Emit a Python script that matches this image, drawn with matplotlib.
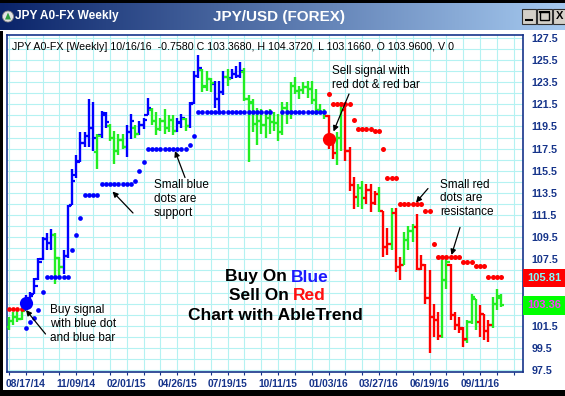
import matplotlib
matplotlib.use("Agg")
import matplotlib.pyplot as plt
import matplotlib.transforms as mtransforms
from matplotlib.colors import LinearSegmentedColormap
from matplotlib.patches import Rectangle, Circle, Polygon
import numpy as np

plt.rcParams["font.family"] = ["Liberation Sans", "DejaVu Sans"]

# weekly bars, bar 0 = week of 07/20/14, last bar = 10/16/16
date_labels = ["08/17/14", "11/09/14", "02/01/15", "04/26/15", "07/19/15",
               "10/11/15", "01/03/16", "03/27/16", "06/19/16", "09/11/16"]
date_bar = [4, 16, 28, 40, 52, 64, 76, 88, 100, 112]

high = [102.3, 102.75, 102.9, 103.1, 104.3, 104.55, 105.8, 107.6, 109.5, 109.9,
        110.2, 109.9, 107.7, 108.3, 112.4, 115.7, 116.9, 119.0, 119.0, 122.0,
        121.7, 118.8, 120.9, 120.8, 119.75, 119.1, 118.85, 118.85, 119.6, 120.65,
        119.6, 120.0, 120.3, 122.1, 121.2, 120.8, 120.3, 121.1, 120.5, 120.5,
        120.3, 120.6, 120.3, 121.7, 124.5, 126.0, 124.7, 124.5, 123.9, 123.6,
        123.6, 124.5, 124.7, 124.7, 125.0, 125.3, 124.8, 122.3, 122.0, 121.2,
        121.1, 120.9, 121.1, 120.8, 120.6, 121.7, 121.7, 123.5, 124.0, 123.2,
        123.5, 123.6, 123.6, 122.9, 121.5, 121.1, 120.5, 118.2, 119.0, 121.7,
        121.5, 117.6, 114.9, 114.3, 114.6, 114.3, 114.3, 113.7, 114.0, 111.9,
        110.3, 112.1, 112.1, 107.7, 109.95, 110.55, 110.7, 111.6, 107.9, 107.1,
        106.5, 103.5, 102.75, 107.4, 107.7, 107.1, 102.75, 102.3, 101.4, 102.0,
        104.4, 103.95, 103.35, 102.6, 102.0, 104.1, 104.85, 104.372]

low = [101.1, 101.55, 101.85, 102.0, 102.9, 103.5, 104.4, 105.6, 107.4, 108.3,
       108.3, 105.3, 105.9, 106.2, 107.6, 112.4, 114.8, 116.3, 117.6, 117.6,
       117.3, 115.7, 118.5, 119.4, 118.2, 116.15, 116.9, 117.5, 116.7, 118.4,
       118.5, 118.7, 119.3, 120.5, 119.6, 118.7, 119.1, 118.8, 119.0, 118.7,
       119.0, 119.4, 119.1, 119.4, 121.5, 123.9, 122.6, 122.7, 122.6, 121.2,
       120.6, 122.3, 123.2, 123.8, 123.9, 123.9, 121.8, 116.3, 119.0, 117.8,
       118.8, 118.5, 118.8, 119.1, 118.2, 118.7, 119.7, 120.2, 122.4, 122.0,
       122.4, 122.1, 121.5, 120.5, 120.6, 120.2, 117.5, 116.6, 116.0, 117.3,
       116.4, 113.7, 112.05, 112.2, 112.05, 112.5, 111.8, 112.4, 111.8, 107.7,
       107.9, 108.3, 106.35, 105.6, 106.95, 108.3, 109.05, 106.5, 106.5, 103.5,
       99.0, 100.5, 100.2, 100.4, 104.85, 102.0, 101.1, 100.8, 99.6, 99.9,
       101.7, 101.1, 100.5, 100.2, 100.05, 101.25, 102.9, 103.166]

opn = [101.4, 101.9, 102.3, 102.1, 102.9, 103.9, 104.4, 105.7, 107.5, 109.3,
       109.0, 109.7, 107.6, 106.8, 107.8, 112.4, 115.1, 116.4, 118.0, 118.6,
       119.4, 117.2, 118.7, 120.5, 119.5, 118.5, 117.3, 118.3, 117.6, 119.0,
       119.4, 118.8, 119.6, 120.5, 121.0, 120.0, 119.3, 120.0, 119.4, 120.1,
       119.1, 119.8, 120.2, 119.5, 121.6, 124.1, 124.6, 123.2, 123.8, 123.3,
       122.0, 122.6, 124.0, 123.9, 124.2, 124.1, 124.4, 122.0, 121.6, 119.7,
       120.0, 119.6, 120.3, 119.9, 119.8, 119.0, 121.2, 120.7, 123.2, 122.7,
       122.8, 123.1, 122.9, 121.9, 121.0, 120.8, 120.4, 118.0, 117.1, 118.5,
       121.0, 117.3, 114.2, 113.1, 113.9, 113.0, 113.8, 112.6, 113.4, 111.9,
       108.6, 108.9, 111.7, 106.8, 107.0, 109.2, 110.1, 110.4, 106.6, 107.0,
       104.0, 102.3, 102.0, 100.6, 105.6, 107.0, 102.5, 101.6, 101.3, 100.2,
       101.8, 103.9, 101.8, 102.6, 101.0, 101.6, 103.5, 103.96]

close = [101.9, 102.3, 102.1, 102.8, 104.0, 104.2, 105.1, 107.3, 109.3, 109.0,
         109.7, 107.6, 106.8, 107.8, 112.3, 114.6, 116.3, 118.0, 118.6, 119.4,
         118.5, 118.6, 120.7, 119.9, 118.5, 117.3, 118.3, 117.6, 119.0, 120.0,
         118.8, 119.6, 120.1, 121.2, 120.0, 119.3, 120.0, 119.4, 120.1, 119.1,
         119.9, 120.3, 119.5, 121.5, 124.1, 124.8, 123.1, 123.8, 123.4, 122.0,
         122.6, 124.0, 123.8, 124.2, 124.1, 124.5, 122.0, 121.7, 119.7, 120.0,
         119.6, 120.3, 119.9, 119.8, 119.0, 121.2, 120.8, 123.2, 122.7, 122.8,
         123.1, 122.9, 121.9, 121.0, 120.8, 120.4, 118.0, 117.1, 118.5, 121.0,
         117.3, 114.2, 113.1, 113.9, 113.0, 113.8, 112.6, 113.4, 111.9, 108.6,
         108.9, 111.7, 106.8, 107.0, 109.2, 110.1, 110.4, 106.6, 107.0, 104.0,
         102.3, 102.0, 100.6, 105.6, 107.3, 102.5, 101.6, 101.2, 100.3, 101.8,
         104.1, 101.8, 102.6, 101.0, 101.6, 103.5, 104.2, 103.368]

# b = buy trend (blue), g = neutral (green), r = sell trend (red)
trend = list("gggg" "bbbbbbb" "gg" "bbbbbbbb" "g" "bb" "gggg" "bb" "g" "bbb"
             "gggggg" "bb" "g" "bbb" "ggg" "bbb" "g" "bbb" "gggggggggggggggggggg"
             "rr" "gg" "rrr" "gg" "rrr" "g" "rr" "g" "rr" "ggg" "rrrrrr" "gg"
             "rrrr" "ggg" "rrr" "ggg")

# blue support stops, starting at bar 4
support_start = 4
support = [101.3, 101.8, 102.2, 102.9, 104.55,
           105.9, 105.9, 105.9, 105.9, 105.9, 105.9,
           108.3, 109.65, 111.2,
           113.3, 113.3, 113.3, 113.3,
           114.3, 114.3, 114.3, 114.3, 114.3, 114.3, 114.3, 114.3,
           114.6, 115.5, 116.3,
           117.5, 117.5, 117.5, 117.5, 117.5, 117.5, 117.5, 117.5, 117.5, 117.5,
           117.8, 118.6,
           120.85, 120.85, 120.85, 120.85, 120.85, 120.85, 120.85, 120.85, 120.85,
           120.85, 120.85, 120.85, 120.85, 120.85, 120.85, 120.85, 120.85, 120.85,
           None, None,
           120.85, 120.85, 120.85, 120.85, 120.85, 120.85, 120.85, 120.85, 120.85,
           120.85, 120.85]

# red resistance stops
resist_early = [103.05, 103.05, 103.05, 103.05]
resist_start = 76
resist = [122.4,
          121.5, 121.5, 121.5, 121.5, 121.5,
          120.1,
          119.3, 119.3, 119.3, 119.3,
          119.1, 119.1,
          117.5,
          114.8, 114.8, 114.8,
          112.5, 112.5, 112.5, 112.5, 112.5, 112.5,
          111.85, 111.85,
          108.9,
          107.75, 107.75, 107.75, 107.75, 107.75, 107.75,
          107.3, 107.3, 107.3,
          106.85, 106.85, 106.85,
          105.9, 105.9, 105.9, 105.9]

buy_bar, buy_price = 4, 103.55
sell_bar, sell_price = 76, 118.35
stop_label, last_label = 105.81, 103.36

# ---- pixel layout ----
W, H = 565, 396
PX0, PXSTEP = 9.0, 4.205          # bar 0 pixel x, pixels per week
YBASE, PXUNIT = 370.0, 11.07       # 97.5 pixel y, pixels per price unit
NAVY = "#16348a"
COLS = {"b": "#0000ff", "g": "#22ee22", "r": "#ff0000"}

fig = plt.figure(figsize=(W / 100, H / 100), dpi=100, facecolor="white")

L, R, T, B = 6.5, 522.5, 35.0, 372.0
ax = fig.add_axes([L / W, 1 - B / H, (R - L) / W, (B - T) / H])
ax.set_xlim((L - PX0) / PXSTEP, (R - PX0) / PXSTEP)
ax.set_ylim(97.5 - (B - YBASE) / PXUNIT, 97.5 + (YBASE - T) / PXUNIT)

high, low, opn, close = map(np.array, (high, low, opn, close))
idx = np.arange(len(high))
trend_arr = np.array(trend)
for key, c in COLS.items():
    m = trend_arr == key
    ax.vlines(idx[m], low[m], high[m], color=c, lw=1.7, zorder=3)
    ax.hlines(opn[m], idx[m] - 0.8, idx[m], color=c, lw=1.6, zorder=3)
    ax.hlines(close[m], idx[m], idx[m] + 0.8, color=c, lw=1.6, zorder=3)

sup = np.array([np.nan if v is None else v for v in support], dtype=float)
ax.plot(np.arange(len(sup)) + support_start, sup, "o", color="#0000ff",
        ms=3.4, mew=0, ls="none", zorder=4)
ax.plot(np.arange(len(resist_early)), resist_early, "o", color="#ff0000",
        ms=3.4, mew=0, ls="none", zorder=4)
ax.plot(np.arange(len(resist)) + resist_start, resist, "o", color="#ff0000",
        ms=3.6, mew=0, ls="none", zorder=4)
ax.plot([buy_bar], [buy_price], "o", color="#0000ff", ms=9.5, mew=0, zorder=5)
ax.plot([sell_bar], [sell_price], "o", color="#ff0000", ms=9.5, mew=0, zorder=5)

# grid / ticks
xt = np.arange(0, 121, 4)
ax.set_xticks(xt)
lab = dict(zip(date_bar, date_labels))
ax.set_xticklabels([lab.get(int(v), "") for v in xt])
yt = np.arange(97.5, 128.0, 1.0)
ax.set_yticks(yt)
# labels hidden behind the two price boxes are left blank
hidden = {103.5, 105.5}
ax.set_yticklabels([f"{v:.1f}" if k % 2 == 0 and v not in hidden else ""
                    for k, v in enumerate(yt)])
ax.yaxis.tick_right()
ax.grid(True, color="#b4f2f2", lw=0.8)
ax.set_axisbelow(True)
ax.tick_params(axis="x", length=2.5, width=0.8, color=NAVY, pad=2.5,
               labelsize=7.4, labelcolor=NAVY)
ax.tick_params(axis="y", length=0, pad=6.5, labelsize=7.7, labelcolor=NAVY)
for t in ax.get_xticklabels() + ax.get_yticklabels():
    t.set_fontweight("bold")
for s in ax.spines.values():
    s.set_color(NAVY)
    s.set_linewidth(1.2)

# price boxes on the right
trans = mtransforms.blended_transform_factory(ax.transAxes, ax.transData)
for val, fc, tc in [(stop_label, "#ff0000", "#7fffff"),
                    (last_label, "#00ff00", "#ff33ff")]:
    ax.add_patch(Rectangle((1.0, val - 0.85), 0.085, 1.7, transform=trans,
                           facecolor=fc, edgecolor="none", clip_on=False, zorder=6))
    ax.text(1.042, val, f"{val:.2f}", transform=trans, ha="center", va="center",
            fontsize=8, fontweight="bold", color=tc, zorder=7, clip_on=False)

# ---- overlay: window chrome, notes ----
fg = fig.add_axes([0, 0, 1, 1], zorder=5)
fg.patch.set_alpha(0)
fg.axis("off")
grad = np.linspace(0, 1, 256).reshape(1, -1)
fg.imshow(grad, extent=(0, W, 30.5, 3), aspect="auto",
          cmap=LinearSegmentedColormap.from_list("tb", ["#0a246a", "#a6caf0"]))
fg.set_xlim(0, W)
fg.set_ylim(H, 0)
fg.add_patch(Rectangle((0, 0), W, 3, fc="black", ec="none"))
fg.add_patch(Rectangle((0, 30.5), 3.3, H, fc="black", ec="none"))
fg.add_patch(Rectangle((0, 390), W, 6, fc="black", ec="none"))
fg.add_patch(Circle((8, 16.5), 5.5, fc="#e4e4e4", ec="#888888", lw=0.6))
fg.add_patch(Polygon([(5, 19.5), (11, 19.5), (8, 12.5)], fc="#2e9e3e", ec="none"))
fg.text(15, 16.5, "JPY A0-FX Weekly", color="white", fontsize=8.6,
        fontweight="bold", va="center")
fg.text(279, 17, "JPY/USD (FOREX)", color="white", fontsize=11,
        fontweight="bold", ha="center", va="center")
for x0 in (521.5, 537, 552.5):
    fg.add_patch(Rectangle((x0, 8.5), 14.5, 15, fc="#d4d0c8", ec="#303030", lw=0.8))
fg.plot([525.5, 531.5], [19.5, 19.5], color="black", lw=1.5)
fg.add_patch(Rectangle((540, 11.5), 8.5, 8.5, fc="none", ec="black", lw=1.0))
fg.plot([540, 548.5], [12, 12], color="black", lw=1.5)
fg.text(559.5, 16.3, "X", fontsize=8, fontweight="bold", ha="center", va="center")

fg.text(11.7, 46.7, "JPY A0-FX [Weekly] 10/16/16  -0.7580 C 103.3680, H 104.3720, "
        "L 103.1660, O 103.9600, V 0", fontsize=7.7, va="center", color="black")

note_kw = dict(fontsize=8.5, va="top", color="black", linespacing=1.2)
fg.text(50, 304, "Buy signal\nwith blue dot\nand blue bar", **note_kw)
fg.text(154, 179, "Small blue\ndots are\nsupport", **note_kw)
fg.text(332, 65, "Sell signal with\nred dot & red bar", **note_kw)
fg.text(440, 178.5, "Small red\ndots are\nresistance", **note_kw)

arrows = [((45.5, 334), (26, 310)), ((133, 213), (112.5, 191.5)),
          ((185, 177.5), (175, 151)), ((349, 94), (333.5, 131.5)),
          ((428, 188.5), (416, 202.5)), ((460, 227.5), (451.5, 255))]
for (sx, sy), (ex, ey) in arrows:
    fg.annotate("", xy=(ex, ey), xytext=(sx, sy),
                arrowprops=dict(arrowstyle="-|>", color="black", lw=0.9,
                                mutation_scale=8, shrinkA=0, shrinkB=0))

big = dict(fontsize=12.5, fontweight="bold", va="center")
fg.text(286.5, 277, "Buy On", ha="right", color="black", **big)
fg.text(290.8, 277, "Blue", ha="left", color="#1a1aff", **big)
fg.text(288.5, 296, "Sell On", ha="right", color="black", **big)
fg.text(293, 296, "Red", ha="left", color="#ff1010", **big)
fg.text(275.5, 315, "Chart with AbleTrend", ha="center", color="black", **big)

fig.savefig("out.png", dpi=100, facecolor="white")
